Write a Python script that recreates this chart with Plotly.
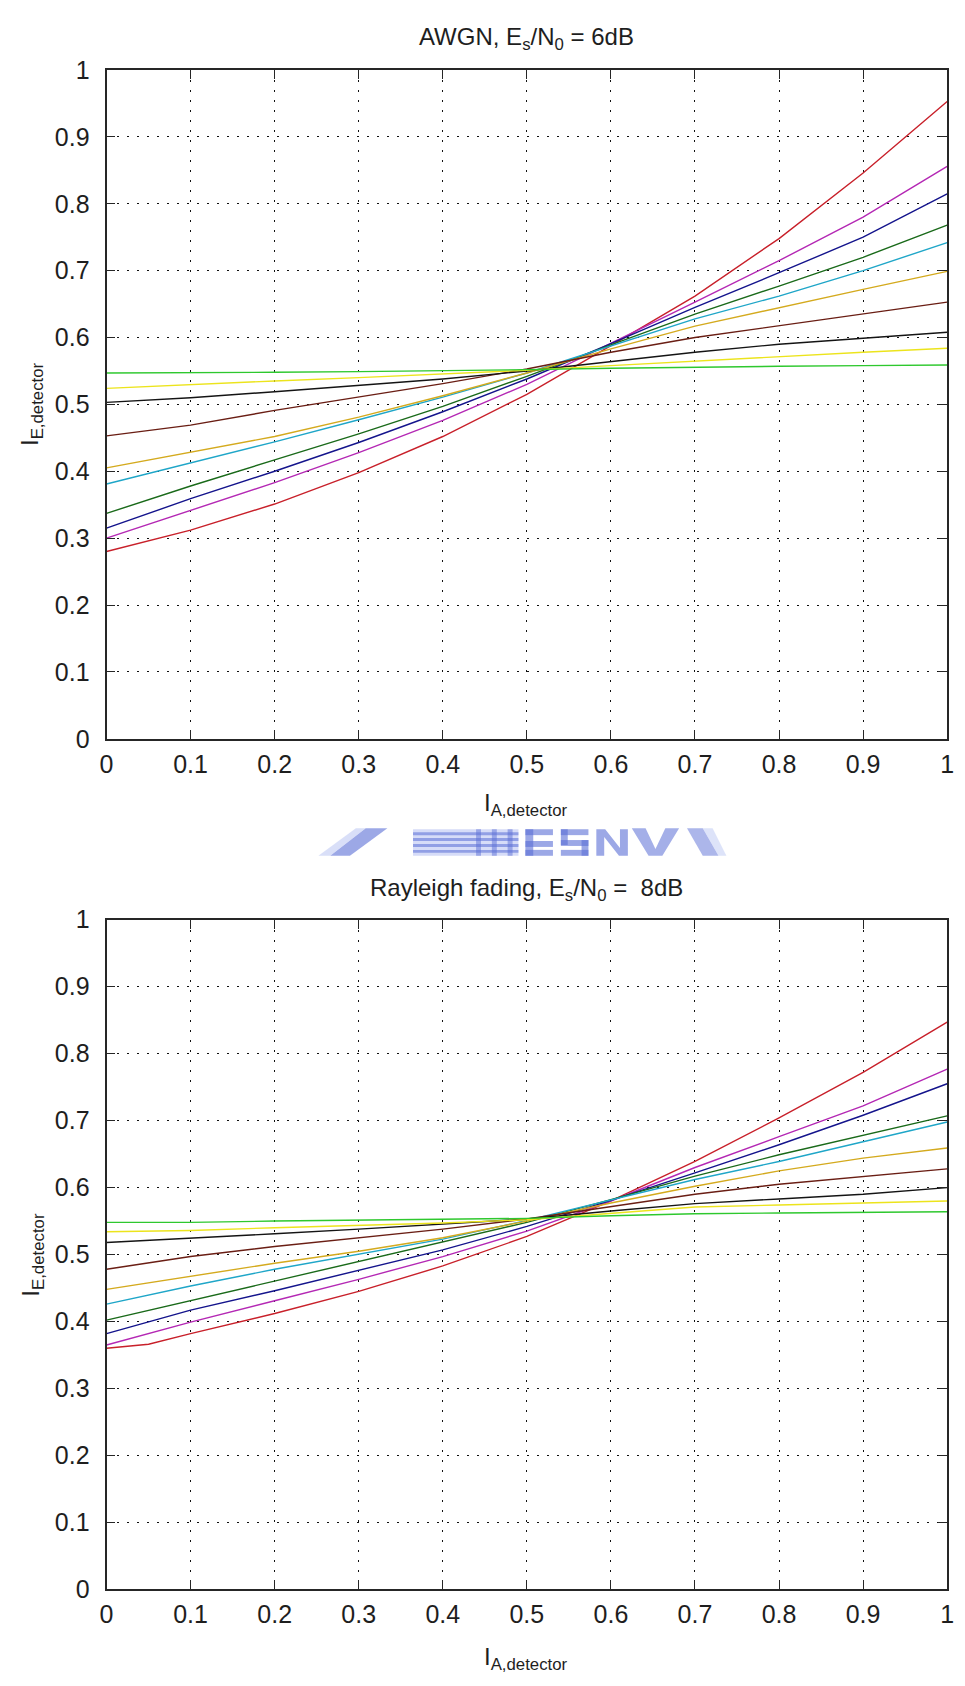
import plotly.graph_objects as go

# ---------------- data ----------------
X = [0.0, 0.1, 0.2, 0.3, 0.4, 0.5, 0.6, 0.7, 0.8, 0.9, 1.0]
X_RAY_RED = [0.0, 0.05, 0.1, 0.2, 0.3, 0.4, 0.5, 0.6, 0.7, 0.8, 0.9, 1.0]

TICKS = [0.0, 0.1, 0.2, 0.3, 0.4, 0.5, 0.6, 0.7, 0.8, 0.9, 1.0]
TICK_LABELS = ["0", "0.1", "0.2", "0.3", "0.4", "0.5", "0.6", "0.7", "0.8", "0.9", "1"]

# AWGN, Es/N0 = 6 dB
awgn_red     = [0.280, 0.312, 0.351, 0.398, 0.452, 0.515, 0.588, 0.662, 0.748, 0.846, 0.953]
awgn_magenta = [0.300, 0.341, 0.383, 0.428, 0.476, 0.530, 0.591, 0.653, 0.715, 0.780, 0.856]
awgn_blue    = [0.315, 0.359, 0.400, 0.443, 0.489, 0.538, 0.591, 0.645, 0.697, 0.750, 0.815]
awgn_dgreen  = [0.337, 0.378, 0.417, 0.456, 0.497, 0.542, 0.589, 0.635, 0.677, 0.720, 0.768]
awgn_cyan    = [0.381, 0.412, 0.444, 0.477, 0.511, 0.547, 0.587, 0.628, 0.662, 0.700, 0.742]
awgn_gold    = [0.405, 0.429, 0.452, 0.481, 0.513, 0.547, 0.583, 0.617, 0.645, 0.672, 0.699]
awgn_brown   = [0.453, 0.469, 0.491, 0.511, 0.531, 0.553, 0.578, 0.600, 0.618, 0.635, 0.653]
awgn_black   = [0.503, 0.510, 0.519, 0.528, 0.538, 0.550, 0.564, 0.578, 0.590, 0.599, 0.608]
awgn_yellow  = [0.524, 0.530, 0.535, 0.540, 0.545, 0.551, 0.558, 0.565, 0.572, 0.578, 0.584]
awgn_green   = [0.547, 0.547, 0.548, 0.549, 0.550, 0.552, 0.554, 0.556, 0.557, 0.558, 0.559]

# Rayleigh fading, Es/N0 = 8 dB
ray_red      = [0.360, 0.366, 0.382, 0.412, 0.445, 0.483, 0.527, 0.580, 0.639, 0.704, 0.772, 0.847]
ray_magenta  = [0.365, 0.399, 0.431, 0.463, 0.497, 0.535, 0.580, 0.630, 0.676, 0.722, 0.777]
ray_blue     = [0.382, 0.417, 0.446, 0.476, 0.507, 0.542, 0.581, 0.622, 0.664, 0.708, 0.755]
ray_dgreen   = [0.402, 0.431, 0.461, 0.490, 0.518, 0.548, 0.582, 0.617, 0.649, 0.678, 0.707]
ray_cyan     = [0.426, 0.453, 0.478, 0.500, 0.523, 0.551, 0.582, 0.612, 0.639, 0.668, 0.698]
ray_gold     = [0.448, 0.468, 0.487, 0.505, 0.525, 0.550, 0.577, 0.602, 0.625, 0.644, 0.659]
ray_brown    = [0.478, 0.497, 0.512, 0.525, 0.538, 0.553, 0.572, 0.590, 0.605, 0.617, 0.628]
ray_black    = [0.518, 0.524, 0.531, 0.538, 0.545, 0.553, 0.565, 0.576, 0.583, 0.590, 0.600]
ray_yellow   = [0.534, 0.536, 0.540, 0.543, 0.547, 0.552, 0.562, 0.571, 0.574, 0.577, 0.580]
ray_green    = [0.548, 0.548, 0.550, 0.551, 0.552, 0.554, 0.558, 0.561, 0.562, 0.563, 0.564]

COLORS = {
    "red": "#c8202a", "magenta": "#b428b4", "blue": "#14148c", "dgreen": "#1a6a1a",
    "cyan": "#1fa6c8", "gold": "#d4aa1e", "brown": "#6a1e14", "black": "#141414",
    "yellow": "#ece41c", "green": "#2ec82e",
}

awgn_series = [
    ("red", X, awgn_red), ("magenta", X, awgn_magenta), ("blue", X, awgn_blue),
    ("dgreen", X, awgn_dgreen), ("cyan", X, awgn_cyan), ("gold", X, awgn_gold),
    ("brown", X, awgn_brown), ("black", X, awgn_black), ("yellow", X, awgn_yellow),
    ("green", X, awgn_green),
]
ray_series = [
    ("red", X_RAY_RED, ray_red), ("magenta", X, ray_magenta), ("blue", X, ray_blue),
    ("dgreen", X, ray_dgreen), ("cyan", X, ray_cyan), ("gold", X, ray_gold),
    ("brown", X, ray_brown), ("black", X, ray_black), ("yellow", X, ray_yellow),
    ("green", X, ray_green),
]

# ---------------- figure ----------------
W, H = 965, 1686
FONT = "Liberation Sans, Arial, Helvetica, sans-serif"
AX_COLOR = "#262626"
TXT = "#1e1e1e"

fig = go.Figure()
for name, xs, ys in awgn_series:
    fig.add_trace(go.Scatter(x=xs, y=ys, mode="lines", xaxis="x", yaxis="y",
                             line=dict(color=COLORS[name], width=1.4), showlegend=False))
for name, xs, ys in ray_series:
    fig.add_trace(go.Scatter(x=xs, y=ys, mode="lines", xaxis="x2", yaxis="y2",
                             line=dict(color=COLORS[name], width=1.4), showlegend=False))


def px_x(p):
    return p / W


def px_y(p):
    return 1 - p / H


axis_common = dict(
    range=[0, 1], tickmode="array", tickvals=TICKS, ticktext=TICK_LABELS,
    showline=True, linecolor=AX_COLOR, linewidth=1.8, mirror="ticks",
    ticks="inside", ticklen=9, tickwidth=1.4, tickcolor=AX_COLOR,
    showgrid=True, gridcolor="#111111", gridwidth=1.2, griddash="2px,8px",
    zeroline=False, tickfont=dict(family=FONT, size=25, color=TXT),
    fixedrange=True,
)
x_common = dict(axis_common, ticklabelstandoff=2)
y_common = dict(axis_common, ticklabelstandoff=10)

XDOM = [px_x(101), px_x(954)]
fig.update_layout(
    width=W, height=H,
    margin=dict(l=0, r=0, t=0, b=0),
    paper_bgcolor="white", plot_bgcolor="white",
    font=dict(family=FONT, size=24, color=TXT),
    xaxis=dict(domain=XDOM, anchor="y", **x_common),
    yaxis=dict(domain=[px_y(737), px_y(57)], anchor="x", **y_common),
    xaxis2=dict(domain=XDOM, anchor="y2", **x_common),
    yaxis2=dict(domain=[px_y(1602), px_y(921)], anchor="x2", **y_common),
    showlegend=False,
)

ann_font = dict(family=FONT, size=24, color=TXT)
annotations = [
    dict(text="AWGN, E<sub>s</sub>/N<sub>0</sub> = 6dB", x=px_x(527), y=px_y(25)),
    dict(text="Rayleigh fading, E<sub>s</sub>/N<sub>0</sub> =  8dB", x=px_x(527), y=px_y(890)),
    dict(text="I<sub>A,detector</sub>", x=px_x(527), y=px_y(804)),
    dict(text="I<sub>A,detector</sub>", x=px_x(527), y=px_y(1672)),
    dict(text="I<sub>E,detector</sub>", x=px_x(25), y=px_y(397), textangle=-90),
    dict(text="I<sub>E,detector</sub>", x=px_x(25), y=px_y(1262), textangle=-90),
]
for a in annotations:
    fig.add_annotation(xref="paper", yref="paper", showarrow=False,
                       xanchor="center", yanchor="middle", font=ann_font, **a)

# ---- faint blue watermark strip between the two panels (decoration) ----
WM_DARK = "#5a6ed6"
WM_LIGHT = "#b4c0f2"
DX = 14  # horizontal shift of the whole watermark


def poly(points, color, opacity=0.6):
    path = "M " + " L ".join(f"{px_x(px + DX):.5f},{px_y(py):.5f}" for px, py in points) + " Z"
    fig.add_shape(type="path", path=path, xref="paper", yref="paper",
                  fillcolor=color, line=dict(width=0), opacity=opacity, layer="above")


def rect(x0, y0, x1, y1, color, opacity=0.6):
    poly([(x0, y0), (x1, y0), (x1, y1), (x0, y1)], color, opacity)


# slash
poly([(314, 856), (334, 856), (372, 828), (350, 828)], WM_DARK, 0.6)
poly([(302, 856), (314, 856), (350, 828), (340, 828)], WM_LIGHT, 0.5)
# building with horizontal stripes
rect(398, 829, 505, 856, WM_LIGHT, 0.55)
for yy in (832, 838, 844, 850):
    rect(398, yy, 505, yy + 3, WM_DARK, 0.55)
for xx in (462, 478, 494):
    rect(xx, 829, xx + 5, 856, WM_DARK, 0.5)
# letters
rect(512, 829, 520, 856, WM_DARK, 0.6)
for yy in (829, 841, 850):
    rect(512, yy, 540, yy + 6, WM_DARK, 0.6)
rect(548, 829, 576, 835, WM_DARK, 0.6)
rect(548, 829, 555, 845, WM_DARK, 0.6)
rect(548, 840, 576, 846, WM_DARK, 0.6)
rect(569, 840, 576, 856, WM_DARK, 0.6)
rect(548, 850, 576, 856, WM_DARK, 0.6)
poly([(584, 856), (584, 829), (593, 829), (608, 848), (608, 829), (616, 829),
      (616, 856), (607, 856), (592, 837), (592, 856)], WM_DARK, 0.6)
# V
poly([(620, 828), (634, 828), (644, 849), (654, 828), (668, 828), (651, 856), (637, 856)],
     WM_DARK, 0.55)
# right diagonal piece
poly([(676, 828), (692, 828), (708, 856), (692, 856)], WM_DARK, 0.5)
poly([(692, 828), (702, 828), (716, 856), (708, 856)], WM_LIGHT, 0.45)

fig.write_html("out.html")
